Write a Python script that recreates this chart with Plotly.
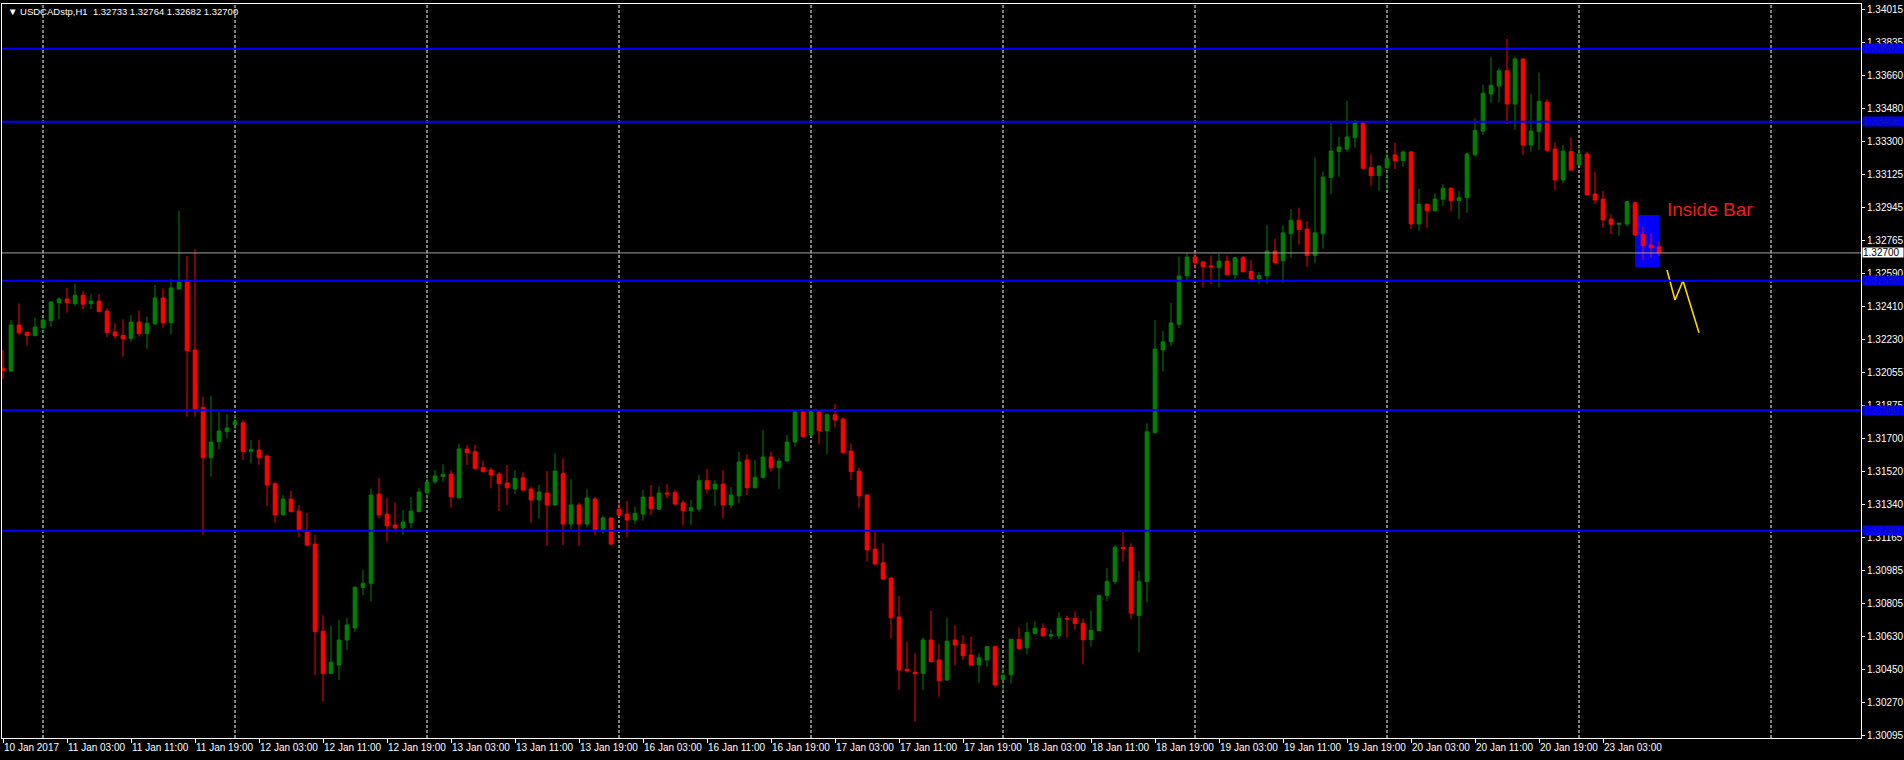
import plotly.graph_objects as go
import pandas as pd

# ---------------- data (USDCAD H1) ----------------
open_ = [1.32077,1.32062,1.32311,1.32272,1.32254,1.32296,1.32334,1.32431,1.32451,1.32426,
         1.32471,1.32426,1.32440,1.32386,1.32273,1.32254,1.32237,1.32327,1.32264,1.32318,
         1.32457,1.32323,1.32505,1.32543,1.32176,1.31866,1.31594,1.31681,1.31735,1.31773,
         1.31783,1.31629,1.31636,1.31603,1.31454,1.31287,1.31371,1.31306,1.31195,1.31128,
         1.30658,1.30430,1.30475,1.30610,1.30675,1.30894,1.30916,1.31398,1.31290,1.31231,
         1.31216,1.31243,1.31303,1.31405,1.31465,1.31492,1.31506,1.31378,1.31641,1.31627,
         1.31542,1.31528,1.31506,1.31458,1.31425,1.31486,1.31425,1.31366,1.31404,1.31339,
         1.31510,1.31236,1.31339,1.31236,1.31371,1.31200,1.31269,1.31316,1.31290,1.31258,
         1.31290,1.31382,1.31316,1.31404,1.31405,1.31351,1.31308,1.31317,1.31470,1.31425,
         1.31452,1.31339,1.31388,1.31582,1.31432,1.31488,1.31598,1.31540,1.31576,1.31679,
         1.31841,1.31717,1.31841,1.31740,1.31826,1.31803,1.31630,1.31522,1.31393,1.31101,
         1.31027,1.30945,1.30734,1.30452,1.30436,1.30430,1.30610,1.30502,1.30394,1.30610,
         1.30588,1.30529,1.30475,1.30502,1.30574,1.30397,1.30423,1.30614,1.30568,1.30646,
         1.30672,1.30631,1.30633,1.30727,1.30727,1.30700,1.30612,1.30660,1.30851,1.30926,
         1.31111,1.31111,1.30742,1.30926,1.31729,1.32176,1.32220,1.32315,1.32576,1.32678,
         1.32651,1.32630,1.32621,1.32656,1.32582,1.32674,1.32601,1.32560,1.32576,1.32710,
         1.32658,1.32803,1.32877,1.32829,1.32686,1.32803,1.33107,1.33247,1.33261,1.33322,
         1.33403,1.33162,1.33117,1.33160,1.33229,1.33198,1.33245,1.32856,1.32963,1.32928,
         1.32990,1.33049,1.32982,1.32998,1.33230,1.33358,1.33558,1.33601,1.33684,1.33504,
         1.33747,1.33283,1.33355,1.33515,1.33261,1.33094,1.33247,1.33175,1.33234,1.33018,
         1.32991,1.32883,1.32855,1.32856,1.32971,1.32801,1.32743,1.32733]
high = [1.32176,1.32338,1.32428,1.32275,1.32350,1.32347,1.32440,1.32460,1.32510,1.32532,
        1.32494,1.32478,1.32477,1.32401,1.32320,1.32341,1.32365,1.32386,1.32356,1.32527,
        1.32509,1.32558,1.32928,1.32683,1.32720,1.31924,1.31928,1.31843,1.31830,1.31825,
        1.31798,1.31690,1.31690,1.31613,1.31465,1.31393,1.31416,1.31339,1.31297,1.31177,
        1.30744,1.30687,1.30718,1.30729,1.30900,1.30988,1.31429,1.31486,1.31378,1.31353,
        1.31312,1.31383,1.31429,1.31496,1.31528,1.31559,1.31528,1.31668,1.31663,1.31663,
        1.31578,1.31542,1.31515,1.31555,1.31528,1.31515,1.31438,1.31447,1.31522,1.31618,
        1.31591,1.31479,1.31353,1.31424,1.31383,1.31281,1.31271,1.31351,1.31361,1.31330,
        1.31420,1.31447,1.31438,1.31451,1.31420,1.31366,1.31366,1.31501,1.31533,1.31474,
        1.31528,1.31435,1.31625,1.31613,1.31582,1.31744,1.31625,1.31594,1.31717,1.31852,
        1.31857,1.31848,1.31848,1.31834,1.31884,1.31812,1.31672,1.31542,1.31397,1.31195,
        1.31132,1.30947,1.30848,1.30601,1.30538,1.30624,1.30768,1.30592,1.30730,1.30689,
        1.30637,1.30628,1.30538,1.30578,1.30578,1.30462,1.30617,1.30679,1.30705,1.30710,
        1.30700,1.30666,1.30759,1.30742,1.30764,1.30727,1.30770,1.30851,1.30998,1.31122,
        1.31193,1.31133,1.30983,1.31780,1.32337,1.32278,1.32430,1.32680,1.32701,1.32699,
        1.32658,1.32686,1.32697,1.32686,1.32678,1.32684,1.32662,1.32597,1.32849,1.32777,
        1.32849,1.32936,1.32944,1.32871,1.33215,1.33140,1.33406,1.33326,1.33520,1.33418,
        1.33406,1.33234,1.33172,1.33247,1.33295,1.33254,1.33250,1.33045,1.32966,1.33022,
        1.33071,1.33054,1.33034,1.33241,1.33427,1.33607,1.33756,1.33700,1.33855,1.33760,
        1.33751,1.33558,1.33675,1.33531,1.33297,1.33283,1.33324,1.33277,1.33247,1.33139,
        1.33034,1.32909,1.32862,1.32980,1.32977,1.32842,1.32806,1.32764]
low = [1.32019,1.32058,1.32257,1.32200,1.32249,1.32266,1.32302,1.32341,1.32377,1.32413,
       1.32395,1.32397,1.32379,1.32245,1.32237,1.32140,1.32221,1.32248,1.32181,1.32310,
       1.32296,1.32262,1.32500,1.31816,1.31816,1.31177,1.31492,1.31640,1.31699,1.31744,
       1.31582,1.31564,1.31555,1.31333,1.31243,1.31280,1.31299,1.31164,1.31114,1.30421,
       1.30277,1.30425,1.30394,1.30556,1.30653,1.30853,1.30817,1.31267,1.31141,1.31190,
       1.31177,1.31216,1.31300,1.31366,1.31452,1.31465,1.31324,1.31370,1.31555,1.31532,
       1.31515,1.31432,1.31306,1.31339,1.31398,1.31411,1.31243,1.31265,1.31119,1.31333,
       1.31123,1.31209,1.31119,1.31218,1.31177,1.31182,1.31119,1.31276,1.31164,1.31236,
       1.31254,1.31285,1.31312,1.31375,1.31339,1.31231,1.31231,1.31303,1.31402,1.31333,
       1.31267,1.31321,1.31348,1.31393,1.31429,1.31483,1.31519,1.31425,1.31573,1.31654,
       1.31704,1.31708,1.31668,1.31614,1.31758,1.31618,1.31474,1.31324,1.31033,1.31015,
       1.30935,1.30619,1.30340,1.30433,1.30169,1.30340,1.30490,1.30304,1.30390,1.30473,
       1.30502,1.30472,1.30380,1.30466,1.30357,1.30337,1.30376,1.30557,1.30532,1.30640,
       1.30625,1.30614,1.30614,1.30623,1.30666,1.30478,1.30575,1.30660,1.30820,1.30911,
       1.31031,1.30723,1.30542,1.30813,1.31725,1.32061,1.32198,1.32294,1.32554,1.32614,
       1.32513,1.32532,1.32513,1.32578,1.32556,1.32593,1.32558,1.32534,1.32534,1.32636,
       1.32539,1.32673,1.32745,1.32625,1.32647,1.32723,1.33016,1.33112,1.33247,1.33268,
       1.33152,1.33062,1.33036,1.33036,1.33153,1.33166,1.32829,1.32820,1.32836,1.32925,
       1.32954,1.32923,1.32883,1.32917,1.33220,1.33337,1.33511,1.33513,1.33396,1.33364,
       1.33229,1.33247,1.33256,1.33247,1.33040,1.33076,1.33139,1.33172,1.33010,1.32964,
       1.32836,1.32802,1.32793,1.32842,1.32792,1.32662,1.32674,1.32682]
close = [1.32064,1.32311,1.32270,1.32254,1.32300,1.32338,1.32435,1.32451,1.32431,1.32471,
         1.32423,1.32440,1.32383,1.32270,1.32252,1.32237,1.32327,1.32264,1.32320,1.32457,
         1.32323,1.32511,1.32545,1.32172,1.31857,1.31594,1.31679,1.31739,1.31755,1.31789,
         1.31627,1.31638,1.31594,1.31447,1.31285,1.31371,1.31303,1.31204,1.31123,1.30655,
         1.30430,1.30490,1.30610,1.30691,1.30894,1.30916,1.31393,1.31285,1.31226,1.31216,
         1.31247,1.31306,1.31409,1.31462,1.31496,1.31505,1.31383,1.31641,1.31621,1.31537,
         1.31519,1.31501,1.31454,1.31432,1.31483,1.31420,1.31366,1.31409,1.31339,1.31522,
         1.31236,1.31339,1.31236,1.31377,1.31200,1.31269,1.31128,1.31285,1.31258,1.31294,
         1.31382,1.31319,1.31404,1.31398,1.31344,1.31308,1.31324,1.31470,1.31425,1.31452,
         1.31339,1.31393,1.31571,1.31432,1.31488,1.31598,1.31540,1.31576,1.31679,1.31841,
         1.31708,1.31841,1.31740,1.31826,1.31798,1.31623,1.31519,1.31388,1.31096,1.31020,
         1.30939,1.30730,1.30448,1.30443,1.30428,1.30610,1.30493,1.30390,1.30604,1.30583,
         1.30525,1.30475,1.30514,1.30574,1.30367,1.30419,1.30614,1.30564,1.30651,1.30674,
         1.30633,1.30638,1.30727,1.30723,1.30699,1.30612,1.30662,1.30851,1.30926,1.31111,
         1.31104,1.30755,1.30926,1.31734,1.32181,1.32220,1.32322,1.32576,1.32678,1.32647,
         1.32625,1.32625,1.32656,1.32582,1.32674,1.32599,1.32560,1.32578,1.32710,1.32647,
         1.32808,1.32877,1.32827,1.32686,1.32808,1.33109,1.33250,1.33272,1.33326,1.33403,
         1.33157,1.33117,1.33169,1.33211,1.33198,1.33245,1.32856,1.32963,1.32928,1.32991,
         1.33049,1.32982,1.32998,1.33234,1.33362,1.33562,1.33605,1.33684,1.33504,1.33747,
         1.33283,1.33358,1.33519,1.33254,1.33094,1.33250,1.33148,1.33234,1.33013,1.32986,
         1.32878,1.32855,1.32860,1.32977,1.32797,1.32739,1.32728,1.32700]

x_tick_labels = ["10 Jan 2017", "11 Jan 03:00", "11 Jan 11:00", "11 Jan 19:00", "12 Jan 03:00",
                 "12 Jan 11:00", "12 Jan 19:00", "13 Jan 03:00", "13 Jan 11:00", "13 Jan 19:00",
                 "16 Jan 03:00", "16 Jan 11:00", "16 Jan 19:00", "17 Jan 03:00", "17 Jan 11:00",
                 "17 Jan 19:00", "18 Jan 03:00", "18 Jan 11:00", "18 Jan 19:00", "19 Jan 03:00",
                 "19 Jan 11:00", "19 Jan 19:00", "20 Jan 03:00", "20 Jan 11:00", "20 Jan 19:00",
                 "23 Jan 03:00"]
y_ticks = [1.34015, 1.33835, 1.33660, 1.33480, 1.33300, 1.33125, 1.32945, 1.32765, 1.32590,
           1.32410, 1.32230, 1.32055, 1.31875, 1.31700, 1.31520, 1.31340, 1.31165, 1.30985,
           1.30805, 1.30630, 1.30450, 1.30270, 1.30095]
levels = [1.33802, 1.33408, 1.32550, 1.31850, 1.31200]
bid = 1.32700
title_text = "USDCADstp,H1\u00a0\u00a01.32733 1.32764 1.32682 1.32700"
box_bars = [204, 207]
box_prices = [1.32624, 1.32905]
zig_bars = [208, 209, 210, 212]
zig_prices = [1.32608, 1.32446, 1.32550, 1.32269]
note_text = "Inside Bar"
note_bar = 207.75
note_price = 1.32932

# ---------------- time axis (H1 bars, weekends skipped) ----------------
times = pd.date_range("2017-01-10 19:00", "2017-01-25 23:00", freq="h")
times = times[times.dayofweek < 5]
n = len(open_)
xs = list(range(n))
x_max = 232.25
day_starts = [k for k, t in enumerate(times) if t.hour == 0 and k <= x_max]
tickvals_x = [8 * k for k in range(len(x_tick_labels))]

FONT = "Liberation Sans, Arial, sans-serif"

fig = go.Figure()
fig.add_trace(go.Candlestick(
    x=xs, open=open_, high=high, low=low, close=close,
    increasing=dict(line=dict(color="#008000", width=1), fillcolor="#008000"),
    decreasing=dict(line=dict(color="#ff0000", width=1), fillcolor="#ff0000"),
    whiskerwidth=0, hoverinfo="skip", showlegend=False,
))
fig.add_trace(go.Scatter(
    x=zig_bars, y=zig_prices, mode="lines",
    line=dict(color="#ffd700", width=1.6), hoverinfo="skip", showlegend=False,
))

shapes = []
for d in day_starts:
    shapes.append(dict(type="line", xref="x", yref="paper", x0=d, x1=d, y0=0, y1=1,
                       line=dict(color="#ffffff", width=1, dash="3px,2px"), layer="below"))
shapes.append(dict(type="rect", xref="x", yref="y", x0=box_bars[0], x1=box_bars[1],
                   y0=box_prices[0], y1=box_prices[1], fillcolor="#0000ff",
                   line=dict(width=0), layer="below"))
for lv in levels:
    shapes.append(dict(type="line", xref="paper", yref="y", x0=0, x1=1, y0=lv, y1=lv,
                       line=dict(color="#0000ff", width=2), layer="above"))
shapes.append(dict(type="line", xref="paper", yref="y", x0=0, x1=1, y0=bid, y1=bid,
                   line=dict(color="#a0a0a0", width=1), layer="above"))

annotations = [
    dict(xref="paper", yref="paper", x=0, y=1, xanchor="left", yanchor="top",
         xshift=4, yshift=0, showarrow=False,
         text="\u25bc\u00a0" + title_text, font=dict(color="#ffffff", size=9.5, family=FONT)),
    dict(xref="x", yref="y", x=note_bar, y=note_price, xanchor="left", yanchor="middle",
         showarrow=False, text=note_text, font=dict(color="#ee1c1c", size=19, family=FONT)),
]
for lv in levels:
    annotations.append(dict(xref="paper", yref="y", x=1, y=lv, xanchor="left", yanchor="middle",
                            xshift=1, showarrow=False, text=f"{lv:.5f}", width=40, height=9,
                            align="left", bgcolor="#0000f0", borderpad=0,
                            font=dict(color="#1414a8", size=10, family=FONT)))
annotations.append(dict(xref="paper", yref="y", x=1, y=bid, xanchor="left", yanchor="middle",
                        xshift=1, showarrow=False, text=f"{bid:.5f}", width=40, height=9,
                        align="left", bgcolor="#ffffff", borderpad=0,
                        font=dict(color="#000000", size=10, family=FONT)))

fig.update_layout(
    width=1904, height=760,
    paper_bgcolor="#000000", plot_bgcolor="#000000",
    margin=dict(l=2, r=43, t=4, b=22, autoexpand=False),
    boxgap=0.35,
    shapes=shapes, annotations=annotations,
    showlegend=False,
    xaxis=dict(range=[-0.125, x_max], showgrid=False, zeroline=False,
               showline=True, linecolor="#ffffff", linewidth=1, mirror=True,
               ticks="outside", ticklen=4, tickcolor="#ffffff", tickwidth=1,
               tickvals=tickvals_x, ticktext=x_tick_labels, tickangle=0,
               ticklabelposition="outside right",
               tickfont=dict(color="#ffffff", size=10, family=FONT),
               rangeslider=dict(visible=False), fixedrange=True),
    yaxis=dict(range=[1.30081, 1.34044], side="right", showgrid=False, zeroline=False,
               showline=True, linecolor="#ffffff", linewidth=1, mirror=True,
               ticks="outside", ticklen=3, tickcolor="#ffffff", tickwidth=1,
               tickvals=y_ticks, ticktext=[f"{v:.5f}" for v in y_ticks],
               tickfont=dict(color="#ffffff", size=10, family=FONT), fixedrange=True),
)

fig.write_html(
    "out.html",
    config={"displayModeBar": False},
    post_script="document.body.style.margin='0';document.body.style.overflow='hidden';"
                "document.body.style.background='#000';",
)
